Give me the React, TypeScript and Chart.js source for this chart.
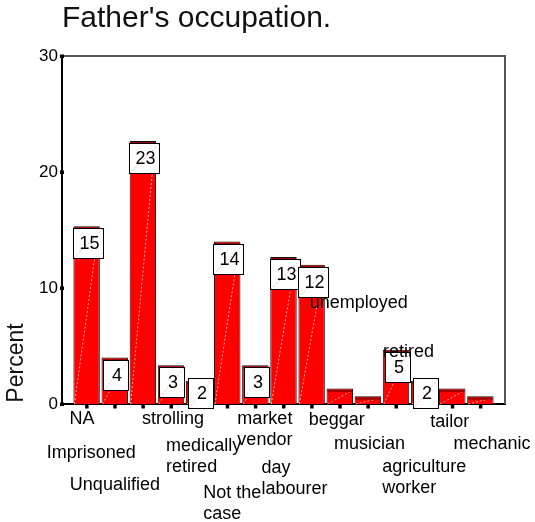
import React, { useEffect, useRef } from "react";
import { Chart, registerables } from "chart.js";

Chart.register(...registerables);

const chartTitle = "Father's occupation.";
const yAxisTitle = "Percent";
const categories = [
  "NA",
  "Imprisoned",
  "Unqualified",
  "strolling",
  "medically retired",
  "Not the case",
  "market vendor",
  "day labourer",
  "unemployed",
  "beggar",
  "musician",
  "retired",
  "agriculture worker",
  "tailor",
  "mechanic",
];
const percents = [15.33, 4.0, 22.67, 3.33, 2.0, 14.0, 3.33, 12.67, 12.0, 1.33, 0.67, 4.67, 2.0, 1.33, 0.67];
const yTicks = [0, 10, 20, 30];

// label layout (offsets in px relative to tick position / axis line)
const labelLeftOffsets = [-17, -68, -73, -29, -33, -24, -18, -22, -2, -31, -34, -13, -42, -22, -27];
const labelBaselineOffsets = [20, 54, 86, 20, 47, 94, 20, 69, -96, 21, 45, -47, 68, 23, 45];

const FONT = "Arial, 'Liberation Sans', Helvetica, sans-serif";

function wrapLabel(c: string): string[] {
  if (c === "Not the case") return ["Not the", "case"];
  return c.split(" ");
}

export default function App() {
  const ref = useRef<HTMLCanvasElement>(null);

  useEffect(() => {
    document.body.style.margin = "0";
    const canvas = ref.current!;

    const overlay = {
      id: "spssOverlay",
      afterDatasetsDraw(chart: any) {
        const ctx = chart.ctx;
        const meta = chart.getDatasetMeta(0);
        meta.data.forEach((el: any) => {
          const { x, y, base, width } = el.getProps(["x", "y", "base", "width"], true);
          const l = x - width / 2;
          const r = x + width / 2;
          ctx.save();
          ctx.strokeStyle = "rgba(255,185,185,0.9)";
          ctx.lineWidth = 1;
          ctx.setLineDash([2, 2]);
          ctx.beginPath();
          ctx.moveTo(l + 1, base);
          ctx.lineTo(r - 1, y + 2);
          ctx.stroke();
          ctx.setLineDash([]);
          ctx.fillStyle = "#a00000";
          ctx.fillRect(l + 1, y + 1, width - 2, 2.5);
          ctx.restore();
        });
      },
      afterDraw(chart: any) {
        const ctx = chart.ctx;
        const area = chart.chartArea;
        const xs = chart.scales.x;
        const ys = chart.scales.y;
        ctx.save();

        // top and right frame
        ctx.strokeStyle = "#555";
        ctx.lineWidth = 2;
        ctx.beginPath();
        ctx.moveTo(area.left, area.top);
        ctx.lineTo(area.right, area.top);
        ctx.lineTo(area.right, area.bottom);
        ctx.stroke();

        // tick squares
        ctx.fillStyle = "#000";
        yTicks.forEach((v) => {
          const py = ys.getPixelForValue(v);
          ctx.fillRect(area.left - 2, py - 1.5, 4, 3.5);
        });
        categories.forEach((_, i) => {
          const px = xs.getPixelForValue(i);
          ctx.fillRect(px - 1.5, area.bottom + 1, 3.5, 3.5);
        });

        // value boxes
        const meta = chart.getDatasetMeta(0);
        meta.data.forEach((el: any, i: number) => {
          const txt = String(Math.round(percents[i]));
          if (Math.round(percents[i]) < 2) return;
          const { x, y, base } = el.getProps(["x", "y", "base"], true);
          const w = txt.length === 1 ? 25 : 30;
          const h = 30;
          let cy = y + 17;
          if (cy + h / 2 > base + 4) cy = base + 4 - h / 2;
          const bx = Math.round(x + 1 - w / 2) + 0.5;
          const by = Math.round(cy - h / 2) + 0.5;
          ctx.fillStyle = "#fff";
          ctx.fillRect(bx, by, w, h);
          ctx.strokeStyle = "rgba(255,170,170,0.9)";
          ctx.lineWidth = 1;
          ctx.setLineDash([2, 2]);
          ctx.beginPath();
          ctx.moveTo(bx, by + h);
          ctx.lineTo(bx + w, by);
          ctx.stroke();
          ctx.setLineDash([]);
          ctx.strokeStyle = "#000";
          ctx.strokeRect(bx, by, w, h);
          ctx.fillStyle = "#000";
          ctx.font = `18px ${FONT}`;
          ctx.textAlign = "center";
          ctx.textBaseline = "middle";
          ctx.fillText(txt, bx + w / 2 + 1, by + h / 2 + 1);
        });

        // category labels
        ctx.fillStyle = "#000";
        ctx.font = `18px ${FONT}`;
        ctx.textAlign = "left";
        ctx.textBaseline = "alphabetic";
        categories.forEach((c, i) => {
          const tx = xs.getPixelForValue(i) + labelLeftOffsets[i];
          wrapLabel(c).forEach((ln, j) => {
            ctx.fillText(ln, tx, area.bottom + labelBaselineOffsets[i] + j * 21);
          });
        });

        // title
        ctx.font = `30px ${FONT}`;
        ctx.fillStyle = "#111";
        ctx.fillText(chartTitle, area.left, 27);

        // y axis title
        ctx.translate(23, 363);
        ctx.rotate(-Math.PI / 2);
        ctx.textAlign = "center";
        ctx.font = `23px ${FONT}`;
        ctx.fillText(yAxisTitle, 0, 0);
        ctx.restore();
      },
    };

    const chart = new Chart(canvas, {
      type: "bar",
      data: {
        datasets: [
          {
            data: percents.map((v, i) => ({ x: i, y: v })),
            backgroundColor: "#ff0000",
            borderColor: "#111",
            borderWidth: 1,
            barPercentage: 0.94,
            categoryPercentage: 1,
          },
        ],
      },
      options: {
        animation: false,
        responsive: false,
        maintainAspectRatio: false,
        layout: { padding: { top: 56, right: 30, bottom: 118, left: 0 } },
        plugins: {
          legend: { display: false },
          tooltip: { enabled: false },
          title: { display: false },
        },
        scales: {
          x: {
            type: "linear",
            offset: false,
            min: -0.875,
            max: 14.875,
            ticks: { display: false },
            grid: { display: false, drawTicks: false, offset: false },
            border: { display: true, color: "#000", width: 2 },
            afterFit: (s: any) => {
              s.height = 0;
            },
          },
          y: {
            min: 0,
            max: 30,
            afterBuildTicks: (s: any) => {
              s.ticks = yTicks.map((v) => ({ value: v }));
            },
            ticks: { color: "#000", font: { family: FONT, size: 17 }, padding: 4 },
            grid: { display: false, drawTicks: false },
            border: { display: true, color: "#000", width: 2 },
            afterFit: (s: any) => {
              s.width = 62;
            },
          },
        },
      } as any,
      plugins: [overlay],
    });
    return () => chart.destroy();
  }, []);

  return (
    <div style={{ position: "absolute", left: 0, top: 0, width: 535, height: 522 }}>
      <canvas ref={ref} width={535} height={522} style={{ width: 535, height: 522, display: "block" }} />
    </div>
  );
}
